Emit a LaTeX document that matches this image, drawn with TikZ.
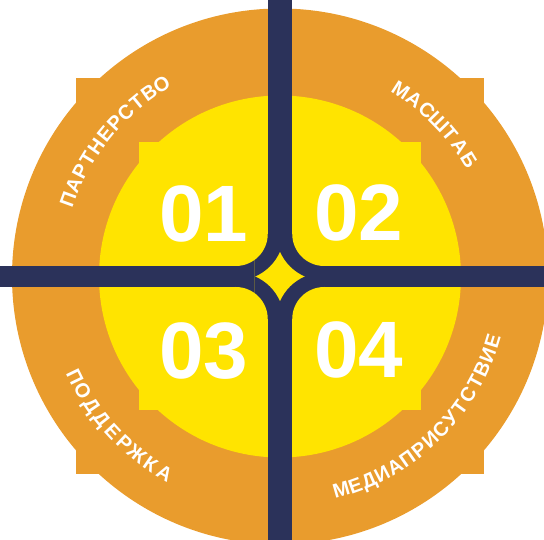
\documentclass[tikz,border=0pt]{standalone}
\usepackage{fontspec}
\setmainfont{Liberation Sans}
\usepackage{tikz}
\definecolor{ringorange}{HTML}{E99C2D}
\definecolor{sunyellow}{HTML}{FFE400}
\definecolor{crossnavy}{HTML}{2B325A}
\tikzset{
  ring/.style={fill=ringorange},
  sun/.style={fill=sunyellow},
  bar/.style={fill=crossnavy},
  num/.style={text=white,inner sep=0pt,font=\fontsize{80}{80}\selectfont\bfseries},
  letter/.style={text=white,inner sep=0pt,anchor=base,font=\fontsize{20}{20}\selectfont\bfseries},
}

\begin{document}
\begin{tikzpicture}[x=1pt,y=1pt]
	\useasboundingbox (-280,-263.5) rectangle (264,276.5);
	\clip (-280,-263.5) rectangle (264,276.5);
	\fill[ring] (0,0) circle[radius=268];
	\fill[ring] (-204,-198) rectangle (204,198);
	\fill[sun] (0,0) circle[radius=181];
	\fill[sun] (-141,-134) rectangle (141,134);
	\fill[bar] (-12.25,-300) rectangle (12.25,300);
	\fill[bar] (-300,-10.5) rectangle (300,10.5);
	\fill[bar] (-44.25,-42.5) rectangle (44.25,42.5);
	\begin{scope}
		\clip (-25.5,-25.5) rectangle (25.5,25.5);
		\fill[sun] (-25.5,-25.5) rectangle (25.5,25.5);
		\foreach \sx/\sy in {1/1,1/-1,-1/1,-1/-1}
			\fill[bar] (\sx*44,\sy*44) circle[radius=47.93];
	\end{scope}
	\foreach \sx/\sy in {1/1,1/-1,-1/1,-1/-1}
		\fill[sun] (\sx*44.25,\sy*42.5) circle[radius=32];
	\node[num] (n01) at (-76,63)      {01};
	\node[num] (n02) at (78.5,64)     {02};
	\node[num] (n03) at (-76.5,-74.5) {03};
	\node[num] (n04) at (78.5,-73.5)  {04};
	\foreach \ch [count=\i] in {П,А,Р,Т,Н,Е,Р,С,Т,В,О}
		\node[letter,rotate={140.85+(6-\i)*3.83-90}] (pa\i) at ({140.85+(6-\i)*3.83}:218.5) {\ch};
	\foreach \ch [count=\i] in {М,А,С,Ш,Т,А,Б}
		\node[letter,rotate={44.3+(4-\i)*4.23-90}] (ma\i) at ({44.3+(4-\i)*4.23}:215) {\ch};
	\foreach \ch [count=\i] in {П,О,Д,Д,Е,Р,Ж,К,А}
		\node[letter,rotate={222.8-(5-\i)*4.2+90}] (po\i) at ({222.8-(5-\i)*4.2}:235) {\ch};
	\foreach \ch [count=\i] in {М,Е,Д,И,А,П,Р,И,С,У,Т,С,Т,В,И,Е}
		\node[letter,rotate={-45.5-(8.5-\i)*3.8+90}] (me\i) at ({-45.5-(8.5-\i)*3.8}:229) {\ch};
\end{tikzpicture}
\end{document}
